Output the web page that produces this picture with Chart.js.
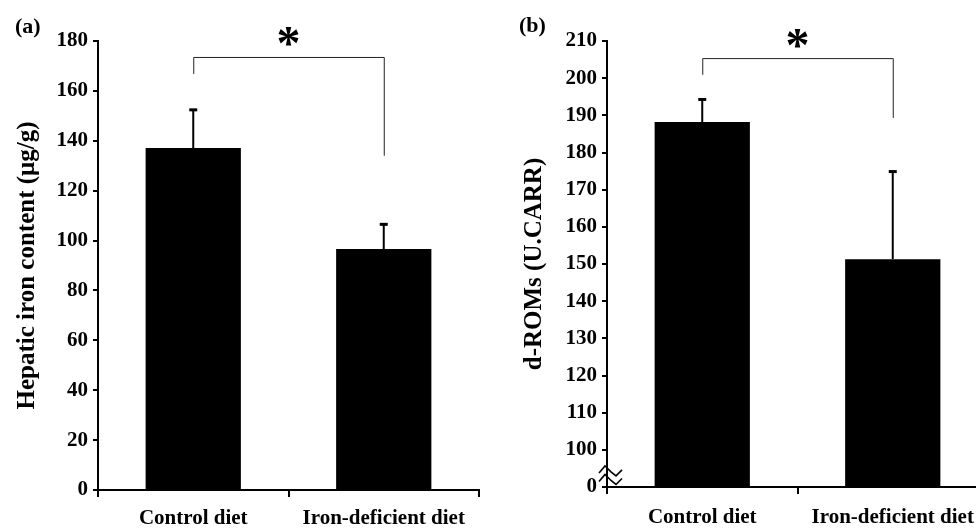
<!DOCTYPE html>
<html>
<head>
<meta charset="utf-8">
<script src="https://cdn.jsdelivr.net/npm/chart.js@4.4.0/dist/chart.umd.min.js"></script>
<style>
  html, body { margin: 0; padding: 0; background: #fff; overflow: hidden; width: 976px; height: 528px; }
  #wa { position: absolute; left: 0; top: 0; width: 490px; height: 528px; }
  #wb { position: absolute; left: 490px; top: 0; width: 510px; height: 528px; }
</style>
</head>
<body>
<div id="wa"><canvas id="ca"></canvas></div>
<div id="wb"><canvas id="cb"></canvas></div>
<script>
// ---- data ----
const categories = ['Control diet', 'Iron-deficient diet'];
const ironValues = [137.1, 96.6];
const ironErrors = [15.5, 10.1];
const romValues = [188.2, 151.3];
const romErrors = [6.2, 23.7];
const ironTicks = [0, 20, 40, 60, 80, 100, 120, 140, 160, 180];
const romTicks = [90, 100, 110, 120, 130, 140, 150, 160, 170, 180, 190, 200, 210];
const romTickLabels = ['0', '100', '110', '120', '130', '140', '150', '160', '170', '180', '190', '200', '210'];

const FONT = "'Liberation Serif', 'Times New Roman', serif";

const extrasPlugin = {
  id: 'extras',
  afterDatasetsDraw(chart, args, opts) {
    const ctx = chart.ctx;
    const y = chart.scales.y;
    const meta = chart.getDatasetMeta(0);
    ctx.save();
    // error bars
    ctx.strokeStyle = '#000';
    ctx.fillStyle = '#000';
    opts.errors.forEach((e, i) => {
      const bar = meta.data[i];
      const x = bar.x;
      const y0 = y.getPixelForValue(opts.values[i]);
      const y1 = y.getPixelForValue(opts.values[i] + e);
      ctx.lineWidth = 2;
      ctx.beginPath();
      ctx.moveTo(x, y0);
      ctx.lineTo(x, y1);
      ctx.stroke();
      ctx.fillRect(x - 4, y1 - 1, 8, 3);
    });
    // significance bracket
    const b = opts.bracket;
    const xl = meta.data[0].x, xr = meta.data[1].x;
    const yt = y.getPixelForValue(b.top);
    ctx.lineWidth = 1;
    ctx.strokeStyle = '#222';
    ctx.beginPath();
    ctx.moveTo(xl + 0.5, y.getPixelForValue(b.left));
    ctx.lineTo(xl + 0.5, yt + 0.5);
    ctx.lineTo(xr + 0.5, yt + 0.5);
    ctx.lineTo(xr + 0.5, y.getPixelForValue(b.right));
    ctx.stroke();
    ctx.fillStyle = '#000';
    ctx.font = "bold 48px " + FONT;
    ctx.textAlign = 'center';
    ctx.textBaseline = 'middle';
    ctx.fillText('*', (xl + xr) / 2, yt - 10);
    // panel label
    ctx.font = "bold 22px " + FONT;
    ctx.textAlign = 'left';
    ctx.textBaseline = 'middle';
    ctx.fillText(opts.label, opts.labelX, opts.labelY);
    // axis break marks
    if (opts.breakMarks) {
      const axx = chart.chartArea.left;
      ctx.lineWidth = 1.6;
      ctx.strokeStyle = '#000';
      [94.6, 92.3].forEach(v => {
        const yc = y.getPixelForValue(v);
        ctx.beginPath();
        ctx.moveTo(axx - 8, yc + 3);
        ctx.lineTo(axx - 2, yc - 4);
        ctx.lineTo(axx + 4, yc + 2);
        ctx.lineTo(axx + 9, yc + 6);
        ctx.lineTo(axx + 15, yc + 0);
        ctx.stroke();
      });
    }
    ctx.restore();
  }
};

function makeChart(id, opt) {
  return new Chart(document.getElementById(id), {
    type: 'bar',
    data: {
      labels: categories,
      datasets: [{
        data: opt.values,
        backgroundColor: '#000',
        borderWidth: 0,
        barPercentage: 0.5,
        categoryPercentage: 1.0,
        base: opt.base
      }]
    },
    options: {
      responsive: true,
      maintainAspectRatio: false,
      animation: false,
      devicePixelRatio: 1,
      layout: { padding: { top: 41, right: opt.padRight, bottom: 0, left: 0 } },
      plugins: {
        legend: { display: false },
        tooltip: { enabled: false },
        extras: {
          values: opt.values, errors: opt.errors, bracket: opt.bracket,
          label: opt.label, labelX: opt.labelX, labelY: opt.labelY, breakMarks: opt.breakMarks
        }
      },
      scales: {
        x: {
          afterFit(s) { s.height = opt.xHeight; },
          grid: { display: true, drawOnChartArea: false, drawTicks: true, tickLength: 7, color: '#000', lineWidth: 2, offset: true },
          border: { display: true, color: '#000', width: 2 },
          ticks: { color: '#000', font: { family: FONT, size: 21, weight: 'bold' }, padding: opt.xPad, maxRotation: 0, autoSkip: false }
        },
        y: {
          min: opt.min, max: opt.max,
          afterFit(s) { s.width = opt.yWidth; },
          afterBuildTicks(s) { s.ticks = opt.ticks.map(v => ({ value: v })); },
          grid: { display: true, drawOnChartArea: false, drawTicks: true, tickLength: 5, color: '#000', lineWidth: 2 },
          border: { display: true, color: '#000', width: 2 },
          ticks: {
            color: '#000', font: { family: FONT, size: 21, weight: 'bold' }, padding: 5,
            callback(v) { return opt.tickLabel(v); }
          },
          title: {
            display: true, text: opt.title, color: '#000',
            font: { family: FONT, size: 25, weight: 'bold' },
            padding: { top: opt.titlePad, bottom: 0 }
          }
        }
      }
    },
    plugins: [extrasPlugin]
  });
}

makeChart('ca', {
  values: ironValues, errors: ironErrors, base: 0,
  min: 0, max: 180, ticks: ironTicks,
  tickLabel: v => String(v),
  title: 'Hepatic iron content (μg/g)', titlePad: 13,
  yWidth: 98, xHeight: 38, padRight: 11, xPad: 9,
  bracket: { top: 173.6, left: 166.8, right: 134 },
  label: '(a)', labelX: 15, labelY: 27, breakMarks: false
});

makeChart('cb', {
  values: romValues, errors: romErrors, base: 90,
  min: 90, max: 210, ticks: romTicks,
  tickLabel: v => romTickLabels[romTicks.indexOf(v)],
  title: 'd-ROMs (U.CARR)', titlePad: 30,
  yWidth: 117, xHeight: 41, padRight: 12, xPad: 11,
  bracket: { top: 205.4, left: 200.9, right: 189.3 },
  label: '(b)', labelX: 29, labelY: 26, breakMarks: true
});
</script>
</body>
</html>
